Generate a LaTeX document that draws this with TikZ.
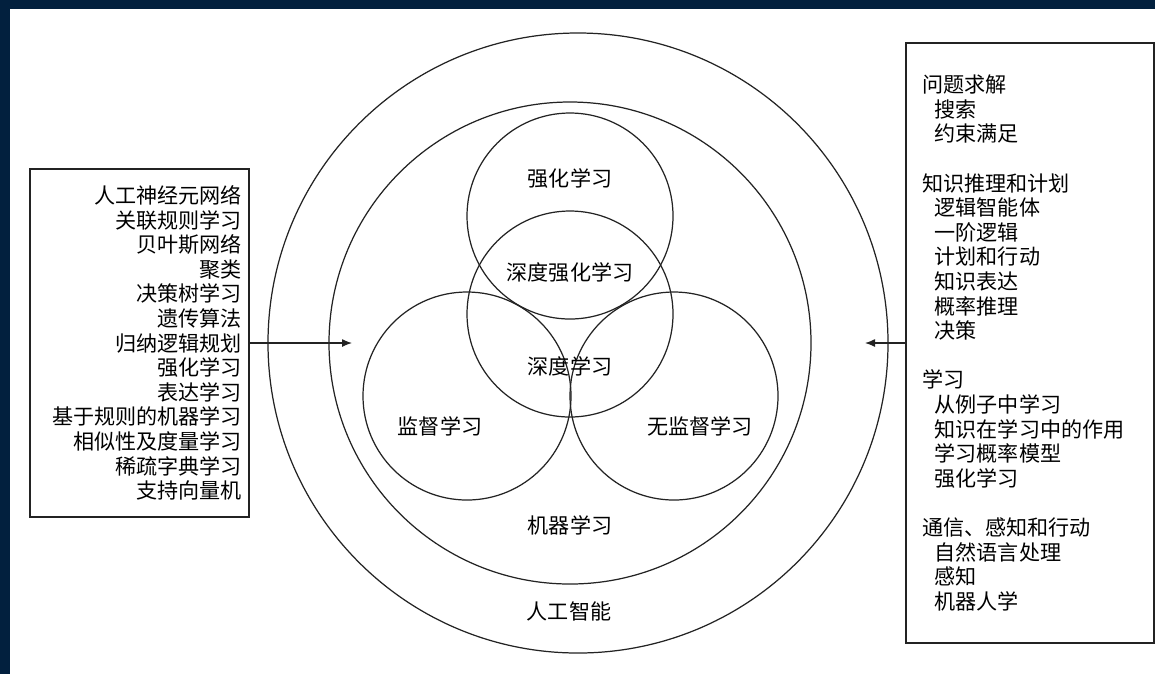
\documentclass[tikz,border=0pt]{standalone}
\usepackage{fontspec}
\newfontfamily\cjk{Noto Sans CJK SC}
\usetikzlibrary{arrows.meta, positioning}
\definecolor{framenavy}{RGB}{2,32,62}
\definecolor{linegray}{RGB}{35,35,35}

\begin{document}
\begin{tikzpicture}[
    x=0.02cm, y=-0.02cm,
    ring/.style={draw=linegray, line width=0.7pt},
    circletext/.style={font=\cjk\fontsize{12}{14}\selectfont, text=black, inner sep=0pt},
    listbox/.style={rectangle, draw=linegray, line width=0.7pt, font=\cjk\fontsize{12}{14}\selectfont, inner ysep=0pt},
    arrow/.style={-{Latex[length=2mm, width=1.6mm]}, line width=0.7pt, linegray}
]

% === Frame ===
\fill[framenavy] (0,0) rectangle (1155,674);
\fill[white] (10,9) rectangle (1155,674);
\useasboundingbox (0,0) rectangle (1155,674);

% === Centres of the rings ===
\coordinate (ai_c) at (578,343);
\coordinate (ml_c) at (570,343);
\coordinate (rl_c) at (570,216);
\coordinate (dl_c) at (570,314);
\coordinate (sl_c) at (467,396);
\coordinate (ul_c) at (674,396);

% === Rings ===
\draw[ring] (ai_c) circle[radius=310];
\draw[ring] (ml_c) circle[radius=241];
\draw[ring] (rl_c) circle[radius=103];
\draw[ring] (dl_c) circle[radius=103];
\draw[ring] (sl_c) circle[radius=104];
\draw[ring] (ul_c) circle[radius=104];

% === Ring labels ===
\node[circletext] (rl) at (570,178) {强化学习};
\node[circletext] (drl) at (570,272) {深度强化学习};
\node[circletext] (dl) at (570,366) {深度学习};
\node[circletext] (sl) at (440,426) {监督学习};
\node[circletext] (ul) at (700,426) {无监督学习};
\node[circletext] (ml) at (570,525) {机器学习};
\node[circletext] (ai) at (569,611) {人工智能};

% === Left list: machine learning methods ===
\node[listbox, align=right, text width=4.1cm, inner xsep=0.14cm, minimum height=6.96cm] (ml_list) at (139.5,343) {%
人工神经元网络\\
关联规则学习\\
贝叶斯网络\\
聚类\\
决策树学习\\
遗传算法\\
归纳逻辑规划\\
强化学习\\
表达学习\\
基于规则的机器学习\\
相似性及度量学习\\
稀疏字典学习\\
支持向量机};

% === Right list: AI topics ===
\node[listbox, align=left, text width=4.32cm, inner xsep=0.32cm, minimum height=12cm] (ai_list) at (1030,343) {%
问题求解\\
\hspace*{0.6em}搜索\\
\hspace*{0.6em}约束满足\\
\mbox{}\\
知识推理和计划\\
\hspace*{0.6em}逻辑智能体\\
\hspace*{0.6em}一阶逻辑\\
\hspace*{0.6em}计划和行动\\
\hspace*{0.6em}知识表达\\
\hspace*{0.6em}概率推理\\
\hspace*{0.6em}决策\\
\mbox{}\\
学习\\
\hspace*{0.6em}从例子中学习\\
\hspace*{0.6em}知识在学习中的作用\\
\hspace*{0.6em}学习概率模型\\
\hspace*{0.6em}强化学习\\
\mbox{}\\
通信、感知和行动\\
\hspace*{0.6em}自然语言处理\\
\hspace*{0.6em}感知\\
\hspace*{0.6em}机器人学};

% === Arrows ===
\coordinate (ml_tip) at (352,343);
\coordinate (ai_tip) at (865,343);
\draw[arrow] (ml_list.east) -- (ml_tip);
\draw[arrow] (ai_list.west) -- (ai_tip);

\end{tikzpicture}
\end{document}
